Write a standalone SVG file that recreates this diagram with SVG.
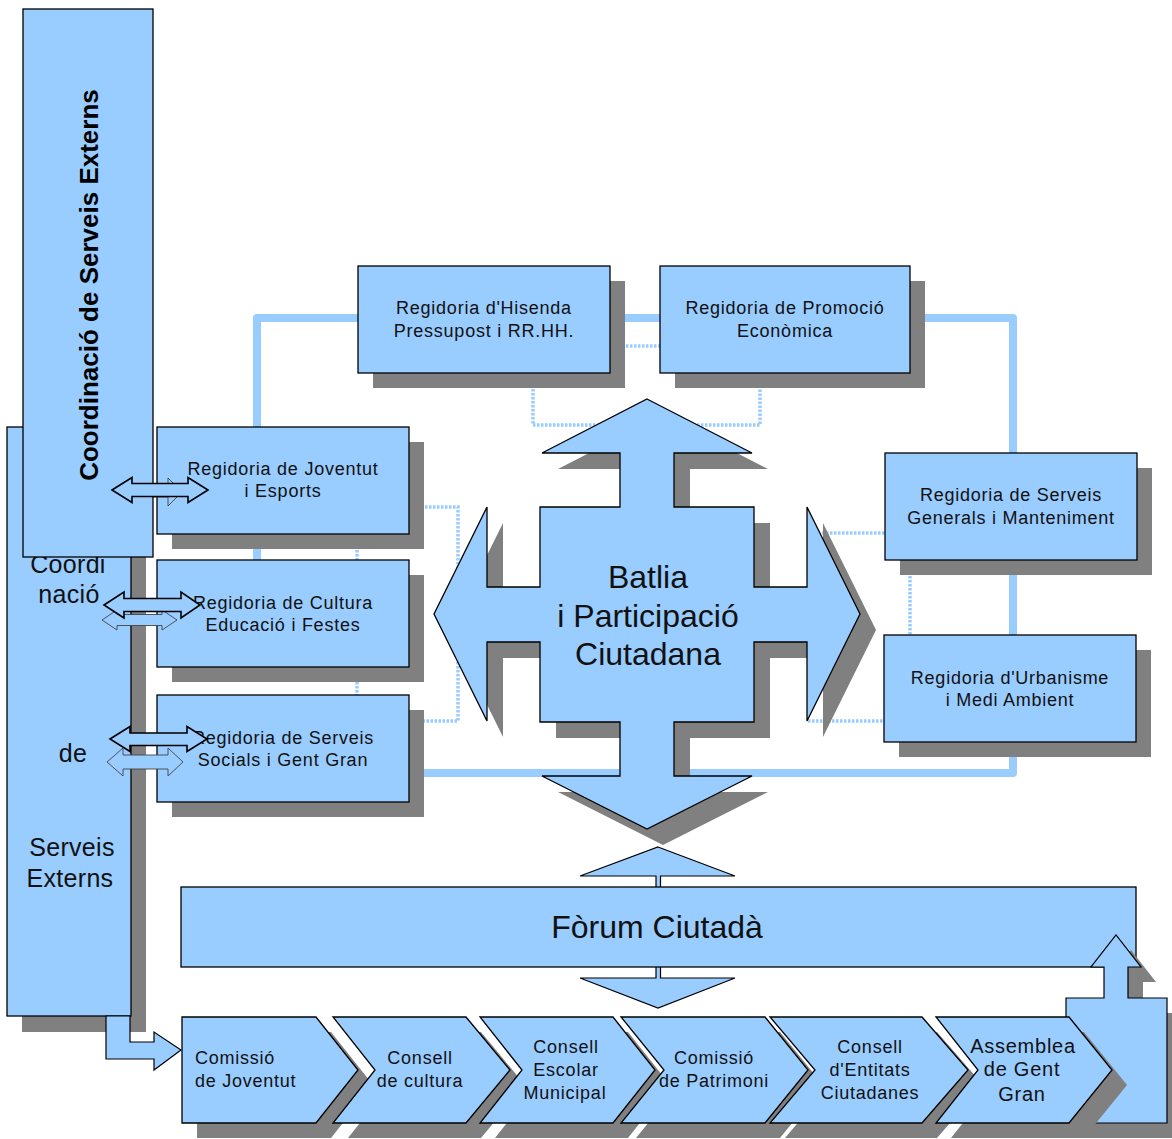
<svg xmlns="http://www.w3.org/2000/svg" width="1172" height="1139" viewBox="0 0 1172 1139">
<style>
.sh{fill:#808080;stroke:none}
.box{fill:#99ccff;stroke:#000;stroke-width:1.3}
.thick{fill:none;stroke:#99ccff;stroke-width:8;stroke-linejoin:round}
.dot{fill:none;stroke:#99ccff;stroke-width:3.5;stroke-dasharray:2.5 1.5}
.t{font-family:"Liberation Sans",Arial,sans-serif;font-size:18px;fill:#111;letter-spacing:0.75px;text-anchor:middle}
.tl{text-anchor:start}
.big{font-size:32px;letter-spacing:0}
.lft{font-size:25px;letter-spacing:0.3px}
.arr{fill:#99ccff;stroke:#000;stroke-width:1.6;stroke-linejoin:miter}
.arr2{fill:#99ccff;stroke:#444;stroke-width:0.9}
.blk{fill:#99ccff;stroke:#000;stroke-width:1.2}
</style>
<rect width="1172" height="1139" fill="#fff"/>

<g id="connectors">
  <path class="thick" d="M257,560 V318 H1013 V773 H409"/>
  <path class="dot" d="M610,346 H660"/>
  <path class="dot" d="M533,373 V425 H760 V373"/>
  <path class="dot" d="M409,507 H458 V721 H409"/>
  <path class="dot" d="M357,534 V695"/>
  <path class="dot" d="M822,533 H885"/>
  <path class="dot" d="M808,721 H884"/>
  <path class="dot" d="M910,560 V635"/>
</g>

<g id="serveis-externs">
  <rect class="sh" x="22" y="442" width="124" height="590"/>
  <rect class="box" x="7" y="427" width="124" height="589"/>
  <text class="t lft" x="68" y="573">Coordi</text>
  <text class="t lft" x="69" y="603">nació</text>
  <text class="t lft" x="73" y="762">de</text>
  <text class="t lft" x="72" y="856">Serveis</text>
  <text class="t lft" x="70" y="887">Externs</text>
</g>

<g id="reg-hisenda">
  <rect class="sh" x="373" y="281" width="252" height="107"/>
  <rect class="box" x="358" y="266" width="252" height="107"/>
  <text class="t" x="484" y="314">Regidoria d'Hisenda</text>
  <text class="t" x="484" y="337">Pressupost i RR.HH.</text>
</g>
<g id="reg-promocio">
  <rect class="sh" x="675" y="281" width="250" height="107"/>
  <rect class="box" x="660" y="266" width="250" height="107"/>
  <text class="t" x="785" y="314">Regidoria de Promoció</text>
  <text class="t" x="785" y="337">Econòmica</text>
</g>
<g id="reg-joventut">
  <rect class="sh" x="172" y="442" width="252" height="107"/>
  <rect class="box" x="157" y="427" width="252" height="107"/>
  <text class="t" x="283" y="475">Regidoria de Joventut</text>
  <text class="t" x="283" y="497">i Esports</text>
</g>
<g id="reg-cultura">
  <rect class="sh" x="172" y="575" width="252" height="107"/>
  <rect class="box" x="157" y="560" width="252" height="107"/>
  <text class="t" x="283" y="609">Regidoria de Cultura</text>
  <text class="t" x="283" y="631">Educació i Festes</text>
</g>
<g id="reg-socials">
  <rect class="sh" x="172" y="710" width="252" height="107"/>
  <rect class="box" x="157" y="695" width="252" height="107"/>
  <text class="t" x="283" y="744">Regidoria de Serveis</text>
  <text class="t" x="283" y="766">Socials i Gent Gran</text>
</g>
<g id="reg-generals">
  <rect class="sh" x="900" y="468" width="252" height="107"/>
  <rect class="box" x="885" y="453" width="252" height="107"/>
  <text class="t" x="1011" y="501">Regidoria de Serveis</text>
  <text class="t" x="1011" y="524">Generals i Manteniment</text>
</g>
<g id="reg-urbanisme">
  <rect class="sh" x="899" y="650" width="252" height="107"/>
  <rect class="box" x="884" y="635" width="252" height="107"/>
  <text class="t" x="1010" y="684">Regidoria d'Urbanisme</text>
  <text class="t" x="1010" y="706">i Medi Ambient</text>
</g>

<g id="batlia">
  <polygon class="sh" transform="translate(16,16)" points="647,399 752,453 674,453 674,507 754,507 754,587 807,587 807,507 860,614 807,721 807,642 754,642 754,722 674,722 674,776 752,776 647,829 542,776 620,776 620,722 540,722 540,642 487,642 487,721 434,614 487,507 487,587 540,587 540,507 620,507 620,453 542,453"/>
  <polygon class="box" stroke-width="1.1" points="647,399 752,453 674,453 674,507 754,507 754,587 807,587 807,507 860,614 807,721 807,642 754,642 754,722 674,722 674,776 752,776 647,829 542,776 620,776 620,722 540,722 540,642 487,642 487,721 434,614 487,507 487,587 540,587 540,507 620,507 620,453 542,453"/>
  <text class="t big" x="648" y="588">Batlia</text>
  <text class="t big" x="648" y="627">i Participació</text>
  <text class="t big" x="648" y="665">Ciutadana</text>
</g>

<g id="forum-arrows">
  <polygon class="blk" points="658,847 735,876 660.5,876 660.5,978 735,978 658,1008 580,978 656,978 656,876 580,876"/>
</g>

<g id="forum">
  <rect class="box" x="181" y="887" width="955" height="80"/>
  <text class="t big" x="657" y="938">Fòrum Ciutadà</text>
</g>

<g id="return-arrow">
  <polygon class="sh" transform="translate(15,15)" points="1066,998 1104,998 1104,967 1091,967 1116,935 1141,967 1128,967 1128,998 1167,998 1167,1123 1066,1123"/>
  <polygon class="blk" points="1066,998 1104,998 1104,967 1091,967 1116,935 1141,967 1128,967 1128,998 1167,998 1167,1123 1066,1123"/>
</g>

<g id="entry-arrow">
  <polygon class="blk" points="130,1016 130,1042 154,1042 154,1032 181,1050 154,1070 154,1059 106,1059 106,1016"/>
</g>

<g id="com-joventut">
  <polygon class="sh" transform="translate(15,15)" points="182,1017 316,1017 358,1070 316,1123 182,1123"/>
  <polygon class="box" points="182,1017 316,1017 358,1070 316,1123 182,1123"/>
  <text class="t tl" x="195" y="1064">Comissió</text>
  <text class="t tl" x="195" y="1087">de Joventut</text>
</g>
<g id="cons-cultura">
  <polygon class="sh" transform="translate(15,15)" points="333,1017 466,1017 510,1070 466,1123 333,1123 375,1070"/>
  <polygon class="box" points="333,1017 466,1017 510,1070 466,1123 333,1123 375,1070"/>
  <text class="t" x="420" y="1064">Consell</text>
  <text class="t" x="420" y="1087">de cultura</text>
</g>
<g id="cons-escolar">
  <polygon class="sh" transform="translate(15,15)" points="480,1017 613,1017 655,1070 613,1123 480,1123 522,1070"/>
  <polygon class="box" points="480,1017 613,1017 655,1070 613,1123 480,1123 522,1070"/>
  <text class="t" x="566" y="1053">Consell</text>
  <text class="t" x="566" y="1076">Escolar</text>
  <text class="t" x="565" y="1099">Municipal</text>
</g>
<g id="com-patrimoni">
  <polygon class="sh" transform="translate(15,15)" points="621,1017 765,1017 808,1070 765,1123 621,1123 664,1070"/>
  <polygon class="box" points="621,1017 765,1017 808,1070 765,1123 621,1123 664,1070"/>
  <text class="t" x="714" y="1064">Comissió</text>
  <text class="t" x="714" y="1087">de Patrimoni</text>
</g>
<g id="cons-entitats">
  <polygon class="sh" transform="translate(15,15)" points="770,1017 922,1017 968,1070 922,1123 770,1123 815,1070"/>
  <polygon class="box" points="770,1017 922,1017 968,1070 922,1123 770,1123 815,1070"/>
  <text class="t" x="870" y="1053">Consell</text>
  <text class="t" x="870" y="1076">d'Entitats</text>
  <text class="t" x="870" y="1099">Ciutadanes</text>
</g>
<g id="assemblea">
  <polygon class="sh" transform="translate(15,15)" points="936,1017 1069,1017 1112,1070 1069,1123 936,1123 978,1070"/>
  <polygon class="box" points="936,1017 1069,1017 1112,1070 1069,1123 936,1123 978,1070"/>
  <text class="t" x="1023" y="1053" style="font-size:20px">Assemblea</text>
  <text class="t" x="1022" y="1076" style="font-size:20px">de Gent</text>
  <text class="t" x="1022" y="1101" style="font-size:20px">Gran</text>
</g>

<g id="link-arrows-back">
  <polygon class="arr2" points="110,492 124,478 124,487 168,487 168,478 182,492 168,506 168,497 124,497 124,506"/>
  <polygon class="arr2" points="102,620 117,610 117,614.5 162,614.5 162,610 177,620 162,630 162,625.5 117,625.5 117,630"/>
  <polygon class="arr2" points="107,762 123,748 123,755 168,755 168,748 183,762 168,776 168,769 123,769 123,776"/>
</g>

<g id="coord-serveis-externs">
  <rect class="box" x="23" y="9" width="130" height="548" stroke-width="1.6"/>
  <text transform="translate(98,285) rotate(-90)" style="font-family:'Liberation Sans',Arial,sans-serif;font-size:26px;font-weight:bold;fill:#000;text-anchor:middle">Coordinació de Serveis Externs</text>
</g>

<g id="link-arrows">
  <polygon class="arr" points="112,490 132,477.5 132,483.5 188,483.5 188,477.5 208,490 188,502.5 188,496.5 132,496.5 132,502.5"/>
  <polygon class="arr" points="104,605 124,592 124,598.5 181,598.5 181,592 200,605 181,618 181,611.5 124,611.5 124,618"/>
  <polygon class="arr" points="110,739 130,726.5 130,733 187,733 187,726.5 207,739 187,751.5 187,745.5 130,745.5 130,751.5"/>
</g>
</svg>
